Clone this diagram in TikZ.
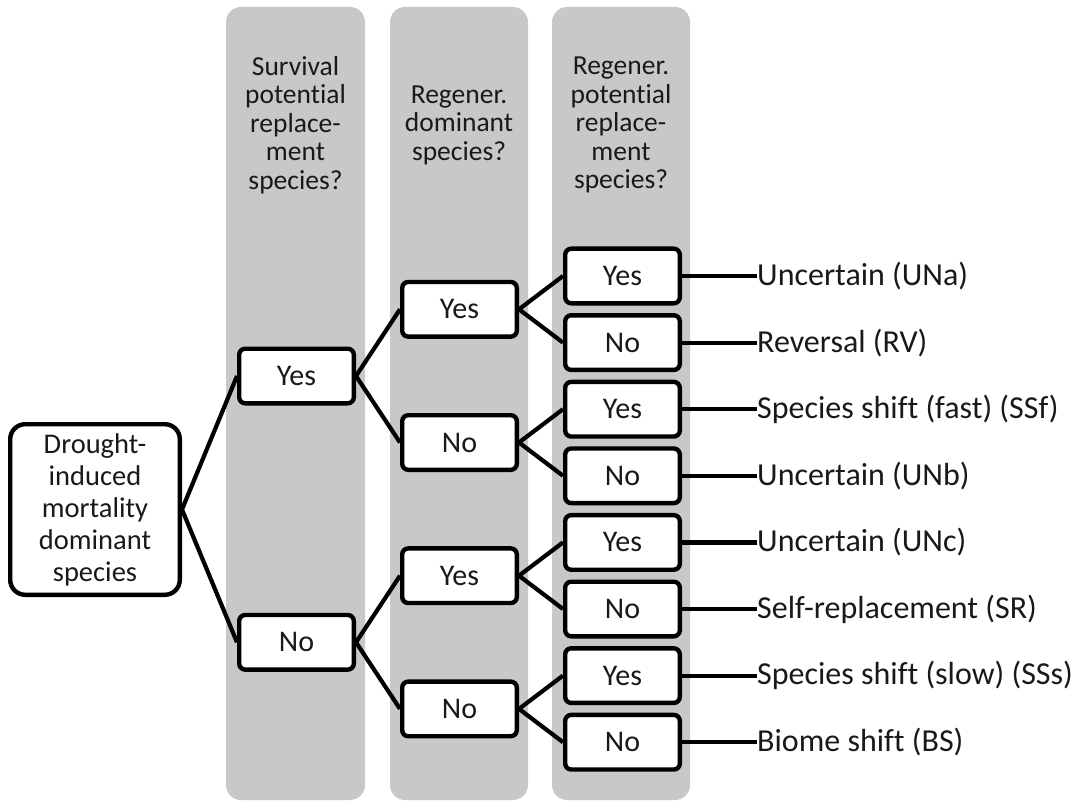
\documentclass[tikz,border=0pt]{standalone}
\usepackage{fontspec}
\setmainfont{Carlito}[Ligatures=NoCommon]
\definecolor{colgray}{RGB}{200,200,200}
\definecolor{txt}{RGB}{25,25,25}
\begin{document}
\begin{tikzpicture}[x=1pt,y=-1pt,
  colband/.style={fill=colgray, rounded corners=15pt},
  hdr/.style={align=center, text=txt, inner sep=0pt, font=\fontsize{27.5}{28.5}\selectfont},
  ans/.style={draw, line width=4.4pt, rounded corners=6pt, fill=white, text=txt,
    minimum width=114.6pt, minimum height=54.6pt, inner sep=0pt, font=\fontsize{30}{32}\selectfont},
  rootbox/.style={draw, line width=4.4pt, rounded corners=15pt, fill=white, text=txt, align=center,
    minimum width=169.6pt, minimum height=170.6pt, inner sep=0pt, font=\fontsize{28.5}{32}\selectfont},
  leaf/.style={anchor=west, inner sep=0pt, text=txt, font=\fontsize{32}{34}\selectfont},
  conn/.style={line width=4.2pt}]
\useasboundingbox (0,0) rectangle (1078,802);
% column bands
\fill[colband] (226,7) rectangle (365,800);
\fill[colband] (390,7) rectangle (528,800);
\fill[colband] (552,7) rectangle (690,800);
% headers
\node[hdr] (h1) at (295.5,125) {Survival\\potential\\replace-\\ment\\species?};
\node[hdr] (h2) at (459,125) {Regener.\\dominant\\species?};
\node[hdr] (h3) at (621,125) {Regener.\\potential\\replace-\\ment\\species?};
% root
\node[rootbox] (root) at (95,509.5) {Drought-\\induced\\mortality\\dominant\\species};
% level 1
\node[ans] (a1) at (296.5,376) {Yes};
\node[ans] (a2) at (296.5,642.3) {No};
% level 2
\node[ans] (b1) at (459.5,309.3) {Yes};
\node[ans] (b2) at (459.5,442.5) {No};
\node[ans] (b3) at (459.5,575.7) {Yes};
\node[ans] (b4) at (459.5,708.9) {No};
% level 3
\node[ans] (c1) at (622.5,276) {Yes};
\node[ans] (c2) at (622.5,342.6) {No};
\node[ans] (c3) at (622.5,409.2) {Yes};
\node[ans] (c4) at (622.5,475.8) {No};
\node[ans] (c5) at (622.5,542.4) {Yes};
\node[ans] (c6) at (622.5,609) {No};
\node[ans] (c7) at (622.5,675.6) {Yes};
\node[ans] (c8) at (622.5,742.2) {No};
% leaves
\node[leaf] (l1) at (757,276) {Uncertain (UNa)};
\node[leaf] (l2) at (757,342.6) {Reversal (RV)};
\node[leaf] (l3) at (757,409.2) {Species shift (fast) (SSf)};
\node[leaf] (l4) at (757,475.8) {Uncertain (UNb)};
\node[leaf] (l5) at (757,542.4) {Uncertain (UNc)};
\node[leaf] (l6) at (757,609) {Self-replacement (SR)};
\node[leaf] (l7) at (757,675.6) {Species shift (slow) (SSs)};
\node[leaf] (l8) at (757,742.2) {Biome shift (BS)};
% connectors
\draw[conn] (a1.west) -- (root.east) -- (a2.west);
\draw[conn] (b1.west) -- (a1.east) -- (b2.west);
\draw[conn] (b3.west) -- (a2.east) -- (b4.west);
\draw[conn] (c1.west) -- (b1.east) -- (c2.west);
\draw[conn] (c3.west) -- (b2.east) -- (c4.west);
\draw[conn] (c5.west) -- (b3.east) -- (c6.west);
\draw[conn] (c7.west) -- (b4.east) -- (c8.west);
\foreach \i in {1,...,8} {\draw[conn] (c\i.east) -- (l\i.west);}
\end{tikzpicture}
\end{document}
